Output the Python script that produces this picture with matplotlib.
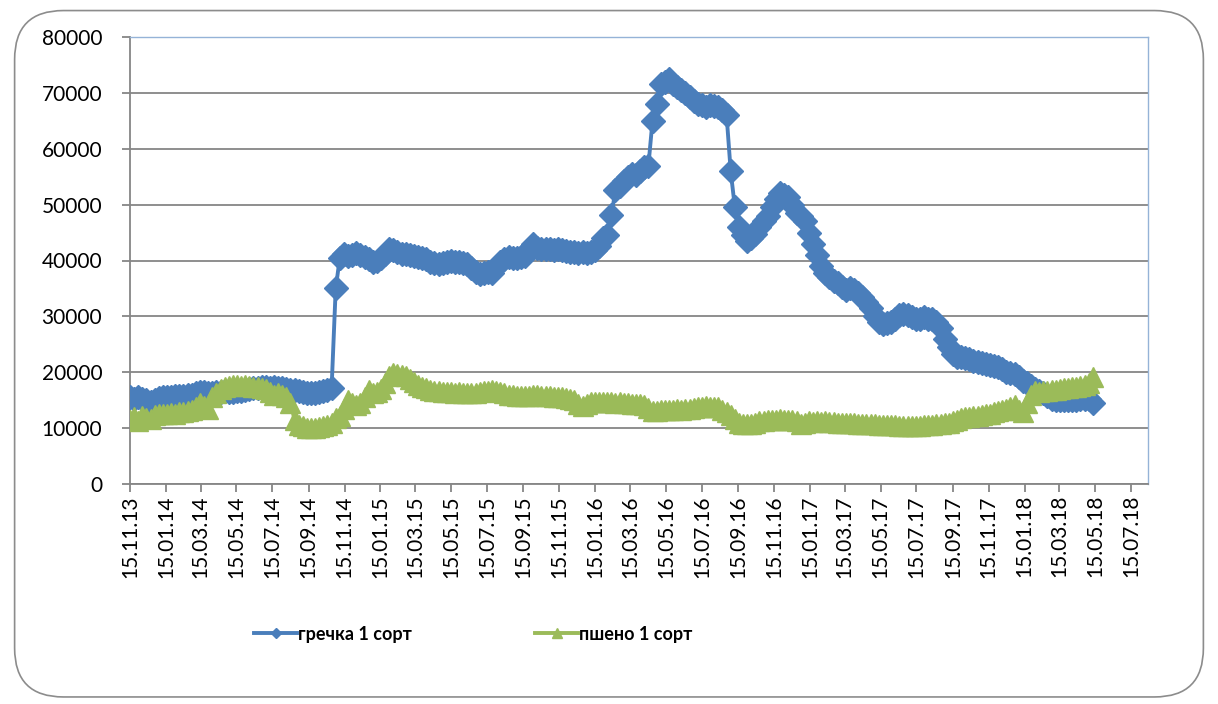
import pandas as pd
import matplotlib
matplotlib.use('Agg')
import matplotlib.pyplot as plt
import matplotlib.dates as mdates
from matplotlib.patches import FancyBboxPatch

# недельные наблюдения, начиная с 15.11.2013
start_date = '2013-11-15'
n_weeks = 235

# гречка 1 сорт, руб./т
grechka = [
    15500, 15300, 15600, 15200, 15000, 14700, 15000, 15400, 15500, 15600,
    15600, 15700, 15800, 15800, 15900, 16000, 16200, 16500, 16400, 16300,
    16200, 16400, 16500, 16600, 16500, 16400, 16600, 16700, 16900, 17000,
    17100, 17200, 17300, 17400, 17200, 17300, 17200, 17100, 17000, 16900,
    16900, 16700, 16500, 16300, 16200, 16300, 16500, 16600, 16800, 17200,
    35000, 40500, 41200, 40800, 41000, 41300, 41000, 40600, 40300, 39800,
    40000, 40500, 41200, 42000, 41800, 41500, 41200, 41100, 41000, 40800,
    40700, 40500, 40200, 39800, 39500, 39400, 39600, 39800, 39900, 39700,
    39800, 39600, 39300, 38700, 38000, 37500, 37800, 38000, 37800, 38800,
    39800, 40300, 40600, 40500, 40500, 40600, 40800, 42000, 43000, 42300,
    42000, 42100, 42000, 41900, 42000, 41800, 41700, 41600, 41500, 41400,
    41500, 41400, 41500, 41800, 42600, 44000, 44600, 48100, 52600, 53300,
    54300, 55000, 55500, 55300, 56000, 56800, 57000, 65000, 68000, 71500,
    72000, 72500, 71500, 71000, 70500, 70000, 69300, 68500, 68000, 67800,
    67500, 67800, 67600, 67500, 67000, 66000, 56000, 49600, 46000, 44500,
    43500, 44000, 44800, 46000, 47000, 48000, 49500, 51000, 52000, 51800,
    51300, 50000, 48500, 48000, 47000, 45000, 43000, 41000, 39000, 37800,
    37000, 36300, 36000, 35300, 34700, 35000, 34700, 34200, 33500, 32500,
    31500, 30000, 29000, 28700, 28800, 29000, 29500, 30200, 30500, 30200,
    29800, 29500, 29600, 29800, 29500, 29600, 29000, 28000, 26000, 24500,
    23300, 22700, 22800, 22600, 22300, 22000, 21800, 21600, 21400, 21300,
    21200, 21000, 20500, 20000, 19800, 19700, 19200, 18500, 18000, 17500,
    17000, 16600, 16200, 15700, 15300, 15100, 15000, 15000, 15100, 15000,
    15100, 15200, 15300, 15300, 14500,
]

# пшено 1 сорт, руб./т
psheno = [
    11500, 12000, 11300, 12200, 11800, 11700, 12300, 12500, 12600, 12500,
    12700, 12600, 12800, 12900, 13000, 13200, 13800, 14500, 14000, 13500,
    15500, 16300, 17000, 17400, 17600, 17800, 17700, 17600, 17700, 17500,
    17400, 17300, 17200, 17000, 16500, 16000, 16300, 16000, 15500, 14500,
    11500, 10500, 10300, 10100, 10000, 10000, 10200, 10300, 10600, 11000,
    11800, 12200, 13500, 15000, 14500, 14200, 14500, 15500, 16800, 16200,
    16500, 17000, 18000, 19300, 19800, 19600, 19500, 19300, 18800, 18300,
    17800, 17400, 17100, 16900, 16700, 16600, 16500, 16400, 16400, 16300,
    16400, 16300, 16200, 16200, 16300, 16500, 16600, 16700, 16800, 16600,
    16400, 16200, 16000, 15900, 15800, 15700, 15800, 15800, 15900, 15900,
    15800, 15700, 15700, 15600, 15600, 15500, 15400, 15300, 15000, 14400,
    14000, 14300, 14600, 14700, 14700, 14600, 14700, 14600, 14500, 14600,
    14500, 14500, 14400, 14400, 14300, 14100, 13600, 13000, 13100, 13200,
    13300, 13200, 13300, 13400, 13300, 13400, 13500, 13600, 13700, 13800,
    13900, 13800, 13700, 13800, 13300, 12800, 12300, 11700, 11000, 10700,
    10700, 10800, 11000, 11200, 11300, 11400, 11400, 11500, 11600, 11500,
    11500, 11400, 11300, 10800, 11000, 11200, 11100, 11200, 11100, 11200,
    11100, 11100, 11000, 11000, 11000, 10900, 10900, 10800, 10800, 10700,
    10700, 10700, 10600, 10600, 10500, 10500, 10500, 10400, 10400, 10400,
    10300, 10400, 10400, 10500, 10500, 10600, 10700, 10800, 10900, 11000,
    11200, 11500, 11800, 12000, 12000, 12100, 12200, 12300, 12500, 12600,
    12800, 13000, 13200, 13400, 13800, 14100, 13200, 12900, 14500, 16000,
    16600, 16500, 16600, 16700, 16800, 16900, 17000, 17100, 17200, 17300,
    17400, 17600, 17800, 18000, 19200,
]

dates = pd.date_range(start_date, periods=n_weeks, freq='7D')
tick_dates = pd.date_range('2013-11-15', '2018-07-15', freq=pd.DateOffset(months=2))

plt.rcParams['font.family'] = ['Lato', 'DejaVu Sans']

fig = plt.figure(figsize=(12.18, 7.04), dpi=100)
# рамка с закруглёнными углами, как у диаграммы Excel
frame = FancyBboxPatch((0.012, 0.01), 0.976, 0.975, boxstyle='round,pad=0,rounding_size=0.04',
                       transform=fig.transFigure, facecolor='none', edgecolor='#8c8c8c',
                       linewidth=1.2, mutation_aspect=1218 / 704, zorder=0)
fig.patches.append(frame)

ax = fig.add_axes([130 / 1218, 220 / 704, 1018 / 1218, 447 / 704])
ax.set_facecolor('none')

ax.plot(dates, grechka, color='#4a7ebb', linewidth=2.8, marker='D', markersize=12,
        markeredgecolor='#4a7ebb', label='гречка 1 сорт', zorder=3)
ax.plot(dates, psheno, color='#9bbb59', linewidth=2.8, marker='^', markersize=15,
        markeredgecolor='#9bbb59', label='пшено 1 сорт', zorder=4)

ax.set_ylim(0, 80000)
ax.set_yticks(range(0, 80001, 10000))
ax.set_xlim(pd.Timestamp('2013-11-15'), pd.Timestamp('2018-08-13'))
ax.set_xticks(tick_dates)
ax.xaxis.set_major_formatter(mdates.DateFormatter('%d.%m.%y'))

ax.grid(axis='y', color='#868686', linewidth=1.3)
ax.set_axisbelow(True)
for s in ['left', 'bottom']:
    ax.spines[s].set_color('#868686')
    ax.spines[s].set_linewidth(1.3)
for s in ['top', 'right']:
    ax.spines[s].set_color('#95b3d7')
    ax.spines[s].set_linewidth(1.0)

ax.tick_params(axis='y', labelsize=15, length=6, width=1.3, color='#868686', pad=14)
ax.tick_params(axis='x', labelsize=15, length=6, width=1.3, color='#868686', pad=2,
               labelrotation=90)

fig.legend(loc='center left', bbox_to_anchor=(245 / 1218, 0.099), ncol=2, frameon=False,
           prop={'size': 13, 'weight': 'bold'}, handlelength=2.4, handletextpad=0.05,
           columnspacing=6.8, borderpad=0, markerscale=0.45)

fig.savefig('out.png', dpi=100)
